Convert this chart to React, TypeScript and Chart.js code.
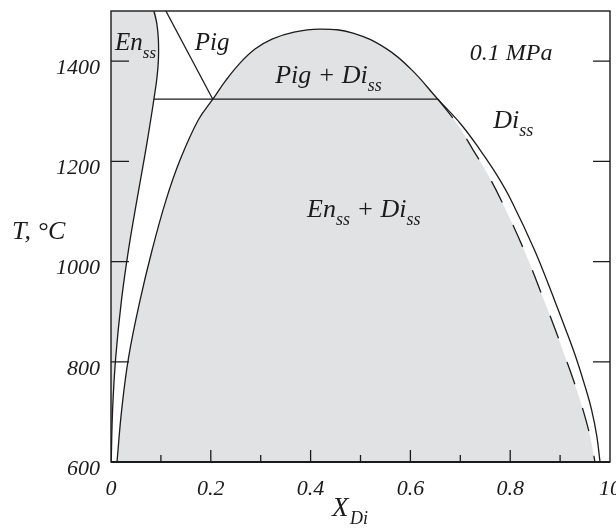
import { useEffect, useRef } from 'react';
import { Chart, registerables } from 'chart.js';

Chart.register(...registerables);

type Pt = [number, number];

// Enstatite solid-solution limb (X_Di, T °C), from the top of the plot down
const enSolvus: Pt[] = [
  [0.086, 1500], [0.092, 1474], [0.095, 1442], [0.095, 1402], [0.092, 1366],
  [0.086, 1324], [0.078, 1273], [0.068, 1213], [0.052, 1123], [0.035, 1023],
  [0.021, 923], [0.0094, 808], [0.0032, 704], [0.0004, 600],
];

// Boundary between the En_ss + Pig and Pig fields
const pigLimit: Pt[] = [[0.110, 1500], [0.204, 1324]];

// Three-phase (peritectic) isotherm
const isotherm: Pt[] = [[0.086, 1324], [0.655, 1324]];

// Lower-left limb of the En_ss + Di_ss field up to the isotherm
const solvusLow: Pt[] = [
  [0.012, 600], [0.0214, 704], [0.0351, 808], [0.0583, 923], [0.0824, 1023],
  [0.1104, 1123], [0.1385, 1203], [0.1746, 1282], [0.204, 1324],
];

// Pig + Di_ss dome above the isotherm
const pigDome: Pt[] = [
  [0.204, 1324], [0.2305, 1362], [0.2585, 1396], [0.2886, 1424], [0.3226, 1444],
  [0.3667, 1458], [0.4188, 1464], [0.485, 1456], [0.5531, 1424], [0.6032, 1382],
  [0.655, 1324],
];

// Diopside solid-solution limb below the isotherm
const solvusHigh: Pt[] = [
  [0.655, 1324], [0.7004, 1275], [0.7395, 1223], [0.7731, 1173], [0.8016, 1123],
  [0.8487, 1023], [0.8888, 923], [0.9118, 863], [0.9319, 808], [0.9491, 754],
  [0.9631, 704], [0.9735, 652], [0.98, 600],
];

// Dashed limb inside the Di_ss branch
const dashedLimb: Pt[] = [
  [0.655, 1324], [0.6934, 1275], [0.7255, 1223], [0.7555, 1173], [0.7816, 1123],
  [0.8277, 1023], [0.8677, 923], [0.8908, 863], [0.9108, 808], [0.9299, 754],
  [0.9459, 704], [0.9599, 652], [0.9699, 600],
];

const xTickLabels = ['0', '0.2', '0.4', '0.6', '0.8', '10'];
const yTickValues = [600, 800, 1000, 1200, 1400];

const INK = '#1b1b1b';
const SHADE = '#e1e2e4';
const SERIF = '"Liberation Serif", "DejaVu Serif", serif';

const toXY = (pts: Pt[]) => pts.map(([x, y]) => ({ x, y }));

type Part = { text: string; sub?: boolean };
type Label = { parts: Part[]; x: number; t: number; size: number };

const fieldLabels: Label[] = [
  { parts: [{ text: 'En' }, { text: 'ss', sub: true }], x: 0.008, t: 1422, size: 25 },
  { parts: [{ text: 'Pig' }], x: 0.168, t: 1422, size: 25 },
  { parts: [{ text: 'Pig + Di' }, { text: 'ss', sub: true }], x: 0.329, t: 1356, size: 26 },
  { parts: [{ text: '0.1 MPa' }], x: 0.719, t: 1402, size: 24 },
  { parts: [{ text: 'Di' }, { text: 'ss', sub: true }], x: 0.766, t: 1267, size: 26 },
  {
    parts: [{ text: 'En' }, { text: 'ss', sub: true }, { text: ' + Di' }, { text: 'ss', sub: true }],
    x: 0.393, t: 1089, size: 26,
  },
];

function drawParts(ctx: CanvasRenderingContext2D, parts: Part[], left: number, base: number, size: number) {
  let cx = left;
  for (const p of parts) {
    const fs = p.sub ? Math.round(size * 0.68) : size;
    ctx.font = `italic ${fs}px ${SERIF}`;
    ctx.fillText(p.text, cx, p.sub ? base + size * 0.3 : base);
    cx += ctx.measureText(p.text).width;
  }
}

const framePlugin = {
  id: 'frameAndText',
  afterDatasetsDraw(chart: Chart) {
    const { ctx, chartArea: a } = chart;
    const xs = chart.scales.x;
    const ys = chart.scales.y;
    ctx.save();
    ctx.strokeStyle = INK;
    ctx.lineWidth = 1.4;
    ctx.strokeRect(a.left, a.top, a.right - a.left, a.bottom - a.top);
    ctx.lineWidth = 2;
    ctx.beginPath();
    ctx.moveTo(a.left, a.bottom);
    ctx.lineTo(a.right, a.bottom);
    ctx.stroke();

    // inward tick marks
    ctx.lineWidth = 1.3;
    ctx.beginPath();
    for (const t of xs.ticks) {
      const v = t.value;
      if (v <= 0.001 || v >= 0.999) continue;
      const px = xs.getPixelForValue(v);
      const major = Math.round(v * 10) % 2 === 0;
      ctx.moveTo(px, a.bottom);
      ctx.lineTo(px, a.bottom - (major ? 12 : 7));
    }
    for (const t of ys.ticks) {
      const v = t.value;
      if (v <= 600 || v >= 1500) continue;
      const py = ys.getPixelForValue(v);
      ctx.moveTo(a.left, py);
      ctx.lineTo(a.left + 18, py);
      ctx.moveTo(a.right, py);
      ctx.lineTo(a.right - 17, py);
    }
    ctx.stroke();

    // field labels
    ctx.fillStyle = INK;
    ctx.textBaseline = 'alphabetic';
    ctx.textAlign = 'left';
    for (const l of fieldLabels) {
      drawParts(ctx, l.parts, xs.getPixelForValue(l.x), ys.getPixelForValue(l.t), l.size);
    }

    // axis titles
    ctx.font = `italic 26px ${SERIF}`;
    ctx.fillText('T, °C', 12, 239);
    drawParts(ctx, [{ text: 'X' }], 332, 516, 27);
    ctx.font = `italic 18px ${SERIF}`;
    ctx.fillText('Di', 350, 524);
    ctx.restore();
  },
};

export default function App() {
  const ref = useRef<HTMLCanvasElement | null>(null);

  useEffect(() => {
    if (!ref.current) return;
    const line = (pts: Pt[], extra: Record<string, unknown> = {}) => ({
      data: toXY(pts),
      showLine: true,
      borderColor: INK,
      borderWidth: 1.3,
      pointRadius: 0,
      tension: 0.4,
      fill: false,
      order: 0,
      ...extra,
    });
    const area = (pts: Pt[]) => ({
      data: toXY(pts),
      showLine: true,
      borderWidth: 0,
      borderColor: 'rgba(0,0,0,0)',
      backgroundColor: SHADE,
      pointRadius: 0,
      tension: 0.4,
      fill: 'shape',
      order: 10,
    });

    const twoPhase = [...solvusLow, ...pigDome.slice(1), ...dashedLimb.slice(1)];
    const enField: Pt[] = [[0, 1500], ...enSolvus, [0, 600]];
    const fullSolvus = [...solvusLow, ...pigDome.slice(1), ...solvusHigh.slice(1)];

    const chart = new Chart(ref.current, {
      type: 'scatter',
      data: {
        datasets: [
          line(enSolvus),
          line(pigLimit, { tension: 0 }),
          line(isotherm, { tension: 0 }),
          line(fullSolvus),
          line(dashedLimb, { borderDash: [24, 25] }),
          area(twoPhase),
          area(enField),
        ] as any,
      },
      options: {
        responsive: false,
        animation: false,
        devicePixelRatio: 1,
        layout: { padding: { top: 11, right: 6, left: 0, bottom: 0 } },
        plugins: { legend: { display: false }, tooltip: { enabled: false } },
        scales: {
          x: {
            type: 'linear',
            min: 0,
            max: 1,
            grid: { display: false, drawTicks: false },
            border: { display: false },
            ticks: {
              stepSize: 0.1,
              autoSkip: false,
              maxRotation: 0,
              padding: 14,
              color: INK,
              font: { family: SERIF, size: 22, style: 'italic' },
              callback: (v: number | string) => {
                const i = Math.round(Number(v) * 10);
                return i % 2 === 0 ? xTickLabels[i / 2] : '';
              },
            },
            afterFit: (s: any) => {
              s.height = 69;
              s.paddingLeft = 0;
              s.paddingRight = 0;
            },
          },
          y: {
            type: 'linear',
            min: 600,
            max: 1500,
            grid: { display: false, drawTicks: false },
            border: { display: false },
            ticks: {
              stepSize: 200,
              includeBounds: false,
              padding: 11,
              labelOffset: 7,
              color: INK,
              font: { family: SERIF, size: 22, style: 'italic' },
              callback: (v: number | string) =>
                yTickValues.includes(Number(v)) ? String(v) : '',
            },
            afterFit: (s: any) => {
              s.width = 111;
              s.paddingTop = 0;
              s.paddingBottom = 0;
            },
          },
        },
      },
      plugins: [framePlugin],
    });
    return () => chart.destroy();
  }, []);

  return (
    <div style={{ position: 'fixed', left: 0, top: 0, width: 616, height: 531, background: '#fff' }}>
      <canvas ref={ref} width={616} height={531} style={{ display: 'block' }} />
    </div>
  );
}
